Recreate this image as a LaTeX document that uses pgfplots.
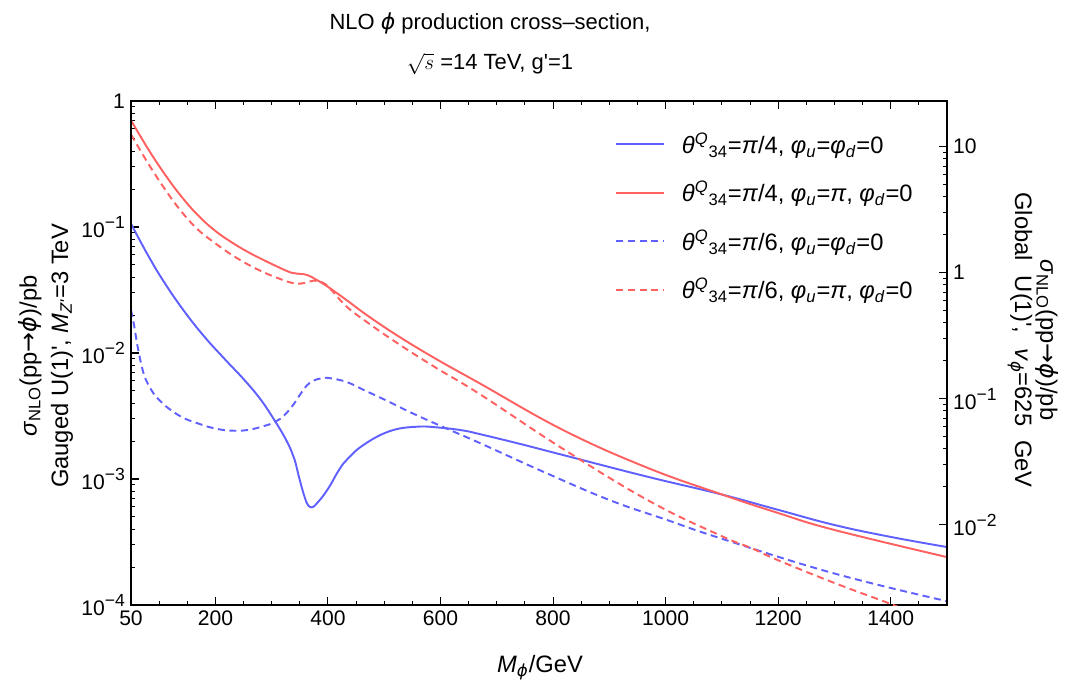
\documentclass[border=0pt]{standalone}
\usepackage{fontspec}
\setmainfont{Liberation Sans}
\newfontfamily\dejavu{DejaVu Sans}
\usepackage{pgfplots}
\pgfplotsset{compat=1.18}
\definecolor{cblue}{RGB}{96,96,255}
\definecolor{cred}{RGB}{255,96,96}
\newcommand{\vphi}{\textit{\dejavu ϕ}}
\newcommand{\arr}{{\dejavu →}}
\newcommand{\thQ}{\textit{θ}\textsuperscript{\textit{Q}}\textsubscript{34}}
\newcommand{\phu}{\textit{φ}\textsubscript{\textit{u}}}
\newcommand{\phd}{\textit{φ}\textsubscript{\textit{d}}}
\newcommand{\ten}[1]{10\raisebox{0.42em}{\fontsize{10}{12}\selectfont #1}}

\begin{document}
\begin{tikzpicture}
\path[use as bounding box] (-2.62,-1.62) rectangle (18.98,12.1);

\pgfplotsset{every axis/.append style={
    width=16.32cm, height=10.08cm, scale only axis,
    xmin=50, xmax=1500,
    ymode=log,
    axis line style={line width=0.7pt},
    tick align=inside,
    major tick length=0.16cm, minor tick length=0.09cm,
    every tick/.style={black, line width=0.6pt},
    tick label style={font=\fontsize{12}{14}\selectfont},
    /pgf/number format/assume math mode=true,
    /pgf/number format/1000 sep={},
}}

\begin{axis}[
    ymin=1e-4, ymax=1,
    xtick={50,200,400,600,800,1000,1200,1400},
    minor xtick={100,150,250,300,350,450,500,550,650,700,750,850,900,950,1050,1100,1150,1250,1300,1350,1450,1500},
    xtick pos=both,
    ytick={1e-4,1e-3,1e-2,1e-1,1},
    yticklabels={\ten{−4},\ten{−3},\ten{−2},\ten{−1},1},
    ytick pos=left,
    legend cell align=left,
    legend style={draw=none, fill=none, at={(0.969,0.952)}, anchor=north east,
        font=\fontsize{13.5}{15}\selectfont, row sep=0.36cm,
        /tikz/every odd column/.append style={column sep=0.26cm}},
    legend image code/.code={\draw[#1] (0cm,0cm) -- (0.96cm,0cm);},
    every axis plot/.append style={line width=1.1pt, smooth, tension=0.7},
]
% theta=pi/4, phi_u=phi_d=0
\addplot[cblue] coordinates {
 (50,0.1062) (79.6,0.0603) (109.2,0.0363) (144.8,0.02138) (180.3,0.01349)
 (215.8,0.00902) (251.4,0.00611) (281,0.004236) (304.7,0.002938) (322.5,0.002168)
 (334.3,0.001698) (341,0.001413) (350,0.000977) (359,0.000708) (365,0.000617)
 (371,0.000596) (377,0.000617) (383,0.000661) (392,0.000741) (404,0.000891)
 (418,0.001148) (433,0.001413) (463,0.001862) (510,0.002399) (558,0.00260)
 (600,0.002553) (640,0.002427) (670,0.00227) (740,0.001905) (818,0.001549)
 (966,0.001047) (1097,0.000759) (1200,0.000569) (1300,0.0004315) (1400,0.000347)
 (1500,0.0002884)
};
\addlegendentry{\thQ=\textit{π}/4, \phu=\phd=0}
% theta=pi/4, phi_u=pi
\addplot[cred] coordinates {
 (50,0.703) (79.6,0.4217) (109.2,0.2655) (138.8,0.1762) (168.5,0.1245)
 (198.1,0.0944) (227.7,0.0762) (257.3,0.0635) (286.9,0.05433) (316.5,0.04699)
 (334.3,0.04345) (345,0.04266) (363,0.0416) (380,0.0380) (400,0.0335)
 (433,0.0263) (470,0.01986) (522,0.01387) (590,0.00908) (670,0.00573)
 (818,0.002445) (966,0.001236) (1097,0.000762) (1200,0.000537) (1300,0.000394)
 (1500,0.000240)
};
\addlegendentry{\thQ=\textit{π}/4, \phu=\textit{π}, \phd=0}
% theta=pi/6, phi_u=phi_d=0
\addplot[cblue, dash pattern=on 4pt off 2.6pt] coordinates {
 (50,0.02193) (55.9,0.01618) (61.8,0.01122) (70.7,0.00733) (79.6,0.00574)
 (94.4,0.00450) (109.2,0.003864) (138.8,0.003126) (168.5,0.002767) (198.1,0.002523)
 (227.7,0.002421) (257.3,0.002449) (286.9,0.002636) (304.7,0.002818) (316,0.00302)
 (328.4,0.00342) (340,0.00398) (352,0.004786) (362,0.0055) (374,0.00603)
 (390,0.00631) (404,0.00631) (433,0.00589) (462,0.00513) (505,0.00417)
 (551,0.00331) (611,0.002512) (670,0.001928) (789,0.001109) (902,0.000676)
 (1000,0.000477) (1097,0.000339) (1300,0.0001778) (1500,0.0001072)
};
\addlegendentry{\thQ=\textit{π}/6, \phu=\phd=0}
% theta=pi/6, phi_u=pi
\addplot[cred, dash pattern=on 4pt off 2.6pt] coordinates {
 (50,0.5433) (79.6,0.3243) (109.2,0.2028) (138.8,0.1340) (168.5,0.0957)
 (198.1,0.07516) (227.7,0.06067) (257.3,0.05058) (286.9,0.04345) (316.5,0.03846)
 (334.3,0.03614) (345,0.03548) (358,0.0359) (374,0.0375) (390,0.0363)
 (403,0.0327) (433,0.0234) (470,0.0175) (522,0.01208) (590,0.00773)
 (670,0.00471) (818,0.00173) (972,0.000665) (1097,0.0003565) (1153,0.000282)
 (1200,0.0002265) (1300,0.0001496) (1399,0.0001023) (1430,0.0000891)
};
\addlegendentry{\thQ=\textit{π}/6, \phu=\textit{π}, \phd=0}
\end{axis}

\begin{axis}[
    ymin=2.304e-3, ymax=23.04,
    hide x axis,
    ytick={0.01,0.1,1,10},
    yticklabels={\ten{−2},\ten{−1},1,10},
    ytick pos=right, yticklabel pos=right,
]
\end{axis}

% titles and axis labels
\node[align=center, font=\fontsize{12.5}{23}\selectfont] at (7.18,11.22)
  {NLO \vphi{} production cross–section,\\ $\sqrt{s}$ =14 TeV, g\textquotesingle=1};
\node[font=\fontsize{13.5}{15}\selectfont] at (8.18,-1.26) {\textit{M}\textsubscript{\vphi}/GeV};
\node[rotate=90, font=\fontsize{13.5}{15}\selectfont] at (-2.02,4.98)
  {\textit{σ}\textsubscript{NLO}(pp\arr\vphi)/pb};
\node[rotate=90, font=\fontsize{13.5}{15}\selectfont] at (-1.38,4.98)
  {Gauged U(1)\textquotesingle, \textit{M}\textsubscript{\textit{Z\textquotesingle}}=3 TeV};
\node[rotate=-90, font=\fontsize{13.5}{15}\selectfont] at (17.78,5.3)
  {Global\hspace{0.35em} U(1)\textquotesingle,\hspace{0.35em} \textit{v}\textsubscript{\vphi}=625\hspace{0.3em} GeV};
\node[rotate=-90, font=\fontsize{13.5}{15}\selectfont] at (18.32,5.3)
  {\textit{σ}\textsubscript{NLO}(pp\arr\vphi)/pb};
\end{tikzpicture}
\end{document}
